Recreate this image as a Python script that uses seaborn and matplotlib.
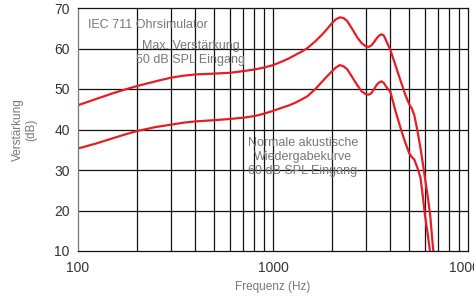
import matplotlib
matplotlib.use("Agg")
import matplotlib.pyplot as plt
from matplotlib.ticker import FixedLocator, NullLocator, NullFormatter
import pandas as pd
import seaborn as sns

# frequencies (Hz)
freq = [100, 125, 150, 175, 200, 250, 300, 350, 400, 500, 600, 700, 800, 900,
        1000, 1100, 1200, 1300, 1400, 1500, 1650, 1800, 1900, 2000, 2100, 2200,
        2300, 2400, 2550, 2700, 2850, 3000, 3100, 3200, 3300, 3400, 3500, 3600,
        3700, 3800, 3900, 4000, 4250, 4500, 4750, 5000, 5150, 5300, 5500, 5700,
        5850, 6000, 6200, 6400, 6600, 6800]

# max. gain, 50 dB SPL input
max_gain = [46.0, 47.6, 48.9, 49.9, 50.7, 51.9, 52.8, 53.3, 53.6, 53.8, 54.0, 54.4, 54.8, 55.3,
            55.9, 56.7, 57.5, 58.4, 59.2, 60.1, 61.8, 63.6, 64.9, 66.2, 67.2, 67.7,
            67.5, 66.8, 64.8, 62.8, 61.3, 60.5, 60.4, 60.8, 61.6, 62.5, 63.2, 63.5,
            63.2, 62.0, 60.8, 59.6, 55.8, 52.2, 48.8, 46.2, 45.2, 43.6, 39.8, 35.5,
            32.0, 28.4, 23.8, 18.8, 11.3, 5.0]

# normal acoustic response, 60 dB SPL input
normal_gain = [35.3, 36.6, 37.8, 38.8, 39.6, 40.6, 41.2, 41.7, 42.0, 42.3, 42.6, 42.9, 43.3, 43.9,
               44.6, 45.3, 45.9, 46.6, 47.4, 48.2, 50.0, 52.0, 53.2, 54.3, 55.3, 55.9,
               55.6, 54.9, 52.9, 51.0, 49.4, 48.7, 48.6, 49.0, 50.0, 51.0, 51.6, 51.9,
               51.5, 50.6, 49.9, 49.3, 44.5, 40.5, 37.0, 34.1, 33.2, 32.6, 30.6, 28.2,
               24.0, 19.3, 14.5, 9.5, 4.0, -1.0]

grid_x = [200, 300, 400, 500, 600, 700, 800, 900, 1000,
          2000, 3000, 4000, 5000, 6000, 7000, 8000, 9000]
x_ticks = [100, 1000, 10000]
y_ticks = [10, 20, 30, 40, 50, 60, 70]

df = pd.DataFrame({
    "freq": freq * 2,
    "gain": max_gain + normal_gain,
    "curve": ["max"] * len(freq) + ["normal"] * len(freq),
})

sns.set_style("white")
plt.rcParams["font.family"] = ["Liberation Sans", "DejaVu Sans"]

fig = plt.figure(figsize=(4.74, 3.0), dpi=100)
ax = fig.add_axes([78 / 474, 49 / 300, 390 / 474, 243 / 300])

red = "#e41e26"
sns.lineplot(data=df, x="freq", y="gain", hue="curve", palette=[red, red],
             estimator=None, sort=False, linewidth=1.6, legend=False, ax=ax)

ax.set_xscale("log")
ax.set_xlim(100, 10000)
ax.set_ylim(10, 70)

for g in grid_x:
    ax.axvline(g, color="#111111", lw=0.9, zorder=0)
for t in y_ticks[1:-1]:
    ax.axhline(t, color="#111111", lw=0.9, zorder=0)

ax.xaxis.set_major_locator(FixedLocator(x_ticks))
ax.xaxis.set_minor_locator(NullLocator())
ax.xaxis.set_minor_formatter(NullFormatter())
ax.set_xticklabels([str(t) for t in x_ticks])
ax.set_yticks(y_ticks)
ax.tick_params(axis="both", length=0, labelsize=10, labelcolor="#333333")
ax.tick_params(axis="x", pad=7)
ax.tick_params(axis="y", pad=6)

for s in ax.spines.values():
    s.set_color("#111111")
    s.set_linewidth(0.9)
ax.spines["left"].set_color("#777777")

ax.set_xlabel("Frequenz (Hz)", fontsize=8.5, color="#777777")
ax.xaxis.set_label_coords(0.5, -0.125)
ax.set_ylabel("Verstärkung\n(dB)", fontsize=8.5, color="#777777", linespacing=1.1)
ax.yaxis.set_label_coords(-0.105, 0.5)

txt = dict(fontsize=9, color="#777777", transform=ax.transAxes)
ax.text(10 / 390, (251 - 25) / 243, "IEC 711 Ohrsimulator", ha="left", va="center", **txt)
ax.text((191 - 78) / 390, (251 - 53) / 243, "Max. Verstärkung\n50 dB SPL Eingang",
        ha="center", va="center", linespacing=1.2, **txt)
ax.text((303 - 78) / 390, (251 - 157) / 243,
        "Normale akustische\nWiedergabekurve\n60 dB SPL Eingang",
        ha="center", va="center", linespacing=1.2, **txt)

fig.savefig("out.png", dpi=100)
